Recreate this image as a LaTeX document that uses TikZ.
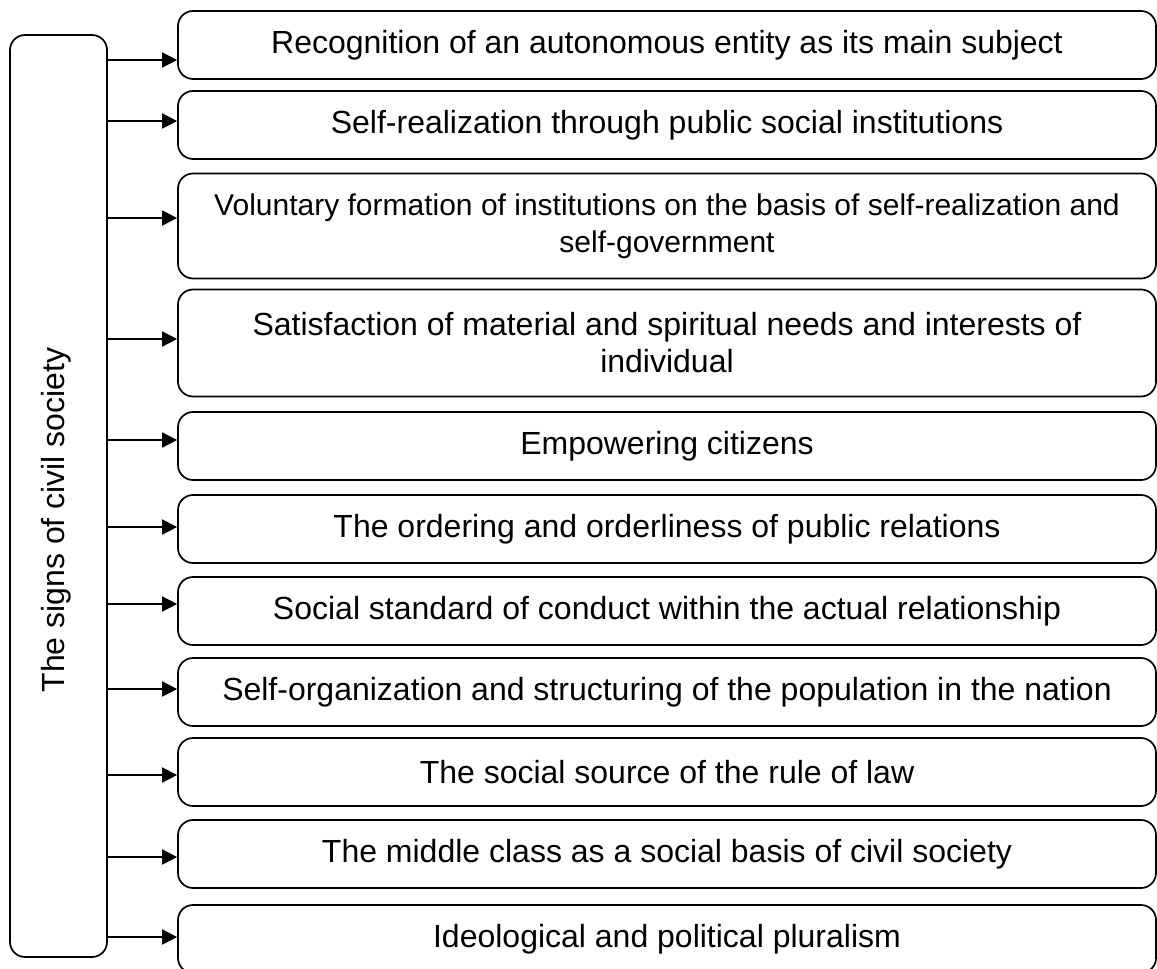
\documentclass[tikz,border=0pt]{standalone}
\usepackage{fontspec}
\setmainfont{Liberation Sans}
\usetikzlibrary{arrows.meta,positioning}

\tikzset{
  signbox/.style={draw, line width=1.7pt, rounded corners=15pt, minimum width=978pt,
    align=center, inner sep=0pt, font=\fontsize{32}{37}\selectfont},
  signarrow/.style={-{Triangle[length=15pt,width=15pt]}, line width=1.7pt},
}

\begin{document}
\begin{tikzpicture}[x=1pt,y=-1pt]
    \useasboundingbox (0,0) rectangle (1157,969);

    % Main block on the left
    \node[draw, line width=1.7pt, rounded corners=15pt, minimum width=97pt,
        minimum height=922pt] (signs) at (58.5,496) {};
    \node[rotate=90, font=\fontsize{32}{37}\selectfont] (signstitle) at (56,520)
        {The signs of civil society};

    % Signs of civil society
    \node[signbox, minimum height=68pt]  (s1)  at (667,45)  {Recognition of an autonomous entity as its main subject};
    \node[signbox, minimum height=68pt]  (s2)  at (667,125) {Self-realization through public social institutions};
    \node[signbox, minimum height=105pt, font=\fontsize{30}{37}\selectfont]
                                         (s3)  at (667,226) {Voluntary formation of institutions on the basis of self-realization and\\self-government};
    \node[signbox, minimum height=107pt] (s4)  at (667,343) {Satisfaction of material and spiritual needs and interests of\\individual};
    \node[signbox, minimum height=68pt]  (s5)  at (667,446) {Empowering citizens};
    \node[signbox, minimum height=68pt]  (s6)  at (667,529) {The ordering and orderliness of public relations};
    \node[signbox, minimum height=68pt]  (s7)  at (667,611) {Social standard of conduct within the actual relationship};
    \node[signbox, minimum height=68pt]  (s8)  at (667,692) {Self-organization and structuring of the population in the nation};
    \node[signbox, minimum height=68pt]  (s9)  at (667,772) {The social source of the rule of law};
    \node[signbox, minimum height=68pt]  (s10) at (667,854) {The middle class as a social basis of civil society};
    \node[signbox, minimum height=68pt]  (s11) at (667,939) {Ideological and political pluralism};

    % Arrows
    \foreach \b/\y in {s1/60, s2/121, s3/218, s4/339, s5/440, s6/527,
                       s7/604, s8/689, s9/775, s10/857, s11/937}
        \draw[signarrow] (signs.east |- 0,\y) -- (\b.west |- 0,\y);
\end{tikzpicture}
\end{document}
